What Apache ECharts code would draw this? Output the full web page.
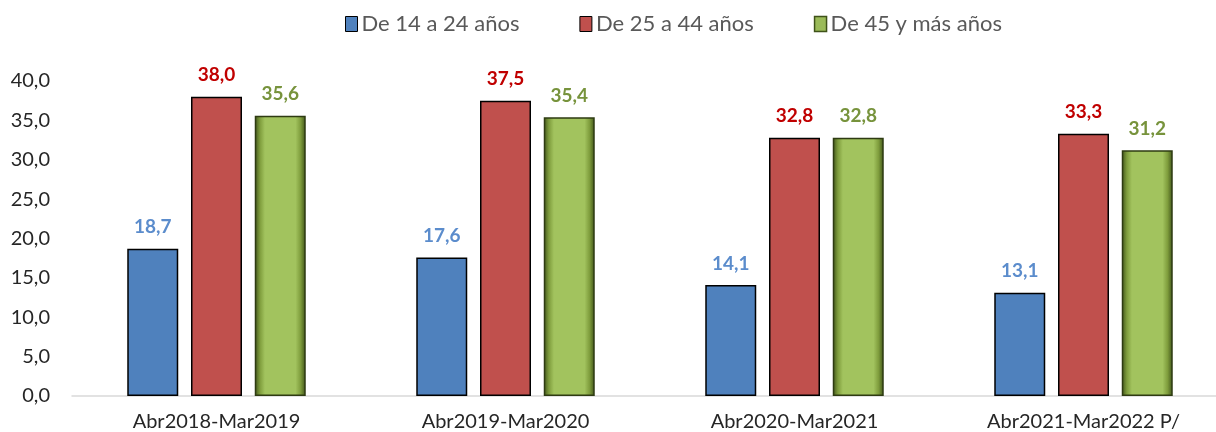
<!DOCTYPE html>
<html><head><meta charset="utf-8">
<script src="https://cdn.jsdelivr.net/npm/echarts@6/dist/echarts.min.js"></script>
<style>html,body{margin:0;padding:0;background:#fff;overflow:hidden}#c{width:1228px;height:432px}</style>
</head><body><div id="c"></div>
<script>
const categories = ['Abr2018-Mar2019','Abr2019-Mar2020','Abr2020-Mar2021','Abr2021-Mar2022 P/'];
const seriesNames = ['De 14 a 24 años','De 25 a 44 años','De 45 y más años'];
const young = [18.7, 17.6, 14.1, 13.1];
const middle = [38.0, 37.5, 32.8, 33.3];
const older = [35.6, 35.4, 32.8, 31.2];
const yTicks = [0,5,10,15,20,25,30,35,40];

const fmt = v => Number(v).toFixed(1).replace('.', ',');
const font = 'Lato';
const greenGrad = new echarts.graphic.LinearGradient(0,0,1,0,[
  {offset:0,color:'#3f5219'},{offset:0.1,color:'#7e9c3c'},{offset:0.2,color:'#a2c35e'},
  {offset:0.8,color:'#a2c35e'},{offset:0.9,color:'#7e9c3c'},{offset:1,color:'#3f5219'}]);

function mk(name, data, color, labelColor, extra){
  return Object.assign({
    name, type:'bar', data, barWidth:51, barGap:'25%',
    itemStyle:{color, borderColor:'#000', borderWidth:1.5},
    label:{show:true, position:'top', distance:12, formatter:p=>fmt(p.value),
      color:labelColor, fontWeight:'bold', fontSize:19, fontFamily:font}
  }, extra||{});
}

const chart = echarts.init(document.getElementById('c'));
chart.setOption({
  animation:false,
  legend:{top:8, left:340, icon:'rect', itemWidth:12, itemHeight:15, itemGap:60,
    textStyle:{fontSize:22, color:'#595959', fontFamily:font, padding:[0,0,0,-1]},
    data:[
      {name:seriesNames[0], itemStyle:{color:'#4f81bd', borderColor:'#000', borderWidth:1}},
      {name:seriesNames[1], itemStyle:{color:'#c0504d', borderColor:'#000', borderWidth:1}},
      {name:seriesNames[2], itemStyle:{color:'#9bbb59', borderColor:'#3f5219', borderWidth:1.5}}
    ]},
  grid:{left:72, top:81, right:0, bottom:34, containLabel:false},
  xAxis:{type:'category', data:categories,
    axisLine:{lineStyle:{color:'#d9d9d9', width:1.5}}, axisTick:{show:false},
    axisLabel:{fontSize:20, color:'#262626', fontFamily:font, margin:16}},
  yAxis:{type:'value', min:0, max:40, interval:5,
    axisLine:{show:false}, axisTick:{show:false}, splitLine:{show:false},
    axisLabel:{fontSize:20, color:'#262626', fontFamily:font, margin:22,
      formatter:v=>yTicks.includes(v)?fmt(v):''}},
  series:[
    mk(seriesNames[0], young, '#4f81bd', '#5b8ccc'),
    mk(seriesNames[1], middle, '#c0504d', '#c00000'),
    mk(seriesNames[2], older, greenGrad, '#77933c', {itemStyle:{color:greenGrad, borderColor:'#2e3b12', borderWidth:1.5}})
  ]
});
</script></body></html>
